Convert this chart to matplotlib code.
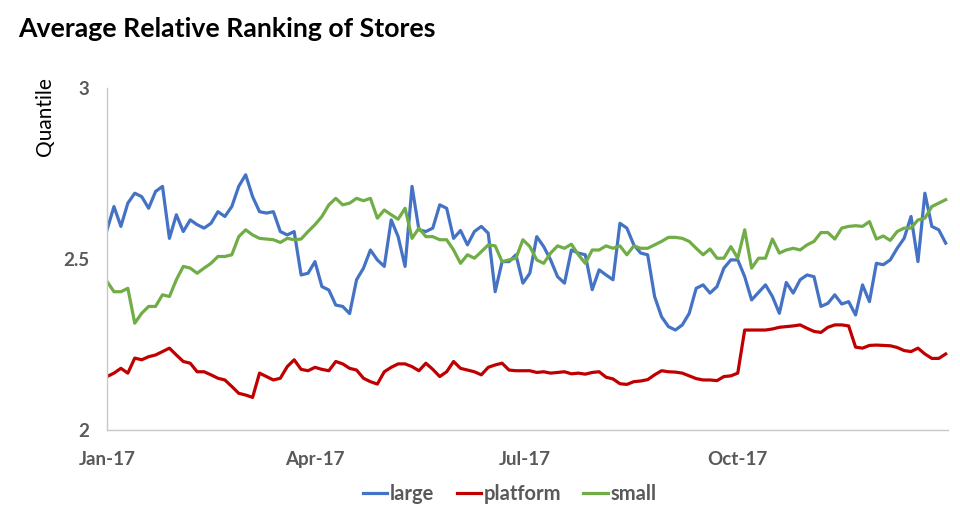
import pandas as pd
import matplotlib
matplotlib.use("Agg")
from matplotlib import pyplot as plt
import matplotlib.dates as mdates

# one reading every 3 days, Jan 1 2017 -> Dec 30 2017
dates = pd.date_range("2017-01-01", periods=122, freq="3D")

large = [
    2.585, 2.653, 2.595, 2.663, 2.692, 2.682, 2.648, 2.697, 2.712, 2.560,
    2.629, 2.580, 2.614, 2.600, 2.590, 2.604, 2.638, 2.624, 2.653, 2.712,
    2.746, 2.682, 2.638, 2.634, 2.638, 2.580, 2.570, 2.580, 2.453, 2.458,
    2.492, 2.419, 2.409, 2.365, 2.361, 2.340, 2.439, 2.473, 2.526, 2.497,
    2.478, 2.614, 2.565, 2.478, 2.712, 2.585, 2.580, 2.590, 2.658, 2.648,
    2.560, 2.583, 2.541, 2.580, 2.595, 2.575, 2.404, 2.492, 2.492, 2.512,
    2.429, 2.458, 2.565, 2.536, 2.497, 2.448, 2.429, 2.526, 2.517, 2.512,
    2.410, 2.468, 2.453, 2.439, 2.604, 2.590, 2.541, 2.517, 2.512, 2.390,
    2.331, 2.302, 2.292, 2.307, 2.341, 2.414, 2.424, 2.400, 2.419, 2.473,
    2.497, 2.497, 2.448, 2.380, 2.402, 2.424, 2.390, 2.341, 2.431, 2.400,
    2.439, 2.453, 2.448, 2.361, 2.370, 2.395, 2.368, 2.375, 2.336, 2.424,
    2.375, 2.487, 2.483, 2.497, 2.531, 2.560, 2.624, 2.492, 2.692, 2.595,
    2.585, 2.546,
]

platform = [
    2.156, 2.166, 2.180, 2.166, 2.210, 2.205, 2.214, 2.219, 2.229, 2.239,
    2.219, 2.200, 2.195, 2.170, 2.170, 2.161, 2.151, 2.146, 2.127, 2.107,
    2.102, 2.095, 2.166, 2.156, 2.146, 2.151, 2.185, 2.205, 2.177, 2.173,
    2.183, 2.177, 2.173, 2.200, 2.193, 2.180, 2.175, 2.151, 2.141, 2.134,
    2.170, 2.183, 2.193, 2.193, 2.185, 2.173, 2.195, 2.177, 2.156, 2.170,
    2.200, 2.180, 2.175, 2.170, 2.161, 2.183, 2.190, 2.195, 2.175, 2.173,
    2.173, 2.173, 2.168, 2.170, 2.166, 2.168, 2.170, 2.164, 2.166, 2.163,
    2.168, 2.170, 2.154, 2.149, 2.135, 2.133, 2.141, 2.143, 2.147, 2.161,
    2.173, 2.170, 2.169, 2.166, 2.158, 2.150, 2.146, 2.146, 2.144, 2.156,
    2.158, 2.166, 2.292, 2.292, 2.292, 2.292, 2.295, 2.300, 2.302, 2.304,
    2.307, 2.297, 2.288, 2.285, 2.300, 2.307, 2.307, 2.304, 2.242, 2.239,
    2.247, 2.248, 2.247, 2.246, 2.241, 2.232, 2.229, 2.239, 2.222, 2.209,
    2.209, 2.222,
]

small = [
    2.434, 2.404, 2.404, 2.414, 2.312, 2.341, 2.361, 2.361, 2.395, 2.390,
    2.439, 2.478, 2.473, 2.458, 2.473, 2.487, 2.507, 2.507, 2.512, 2.565,
    2.585, 2.570, 2.560, 2.558, 2.556, 2.548, 2.560, 2.556, 2.558, 2.580,
    2.600, 2.624, 2.658, 2.677, 2.658, 2.663, 2.677, 2.670, 2.677, 2.619,
    2.643, 2.629, 2.616, 2.648, 2.560, 2.590, 2.565, 2.565, 2.556, 2.556,
    2.526, 2.487, 2.512, 2.502, 2.521, 2.541, 2.538, 2.492, 2.497, 2.502,
    2.556, 2.536, 2.497, 2.487, 2.517, 2.538, 2.531, 2.543, 2.512, 2.487,
    2.526, 2.526, 2.538, 2.531, 2.538, 2.512, 2.538, 2.531, 2.531, 2.541,
    2.551, 2.563, 2.563, 2.560, 2.551, 2.531, 2.512, 2.529, 2.502, 2.502,
    2.536, 2.502, 2.585, 2.473, 2.502, 2.502, 2.558, 2.517, 2.526, 2.531,
    2.526, 2.541, 2.551, 2.577, 2.577, 2.558, 2.590, 2.595, 2.597, 2.595,
    2.609, 2.558, 2.567, 2.554, 2.580, 2.590, 2.590, 2.614, 2.619, 2.653,
    2.663, 2.673,
]

series_names = ["large", "platform", "small"]
colors = ["#4472C4", "#C00000", "#70AD47"]

plt.rcParams["font.family"] = ["Lato", "DejaVu Sans"]

fig = plt.figure(figsize=(9.6, 5.23), dpi=100)
ax = fig.add_axes([0.1115, 0.178, 0.876, 0.654])

for name, vals, c in zip(series_names, [large, platform, small], colors):
    ax.plot(dates, vals, color=c, lw=2.3, label=name, solid_joinstyle="round")

ax.set_ylim(2, 3)
ax.set_yticks([2, 2.5, 3])
ax.set_yticklabels(["2", "2.5", "3"])
ax.set_xlim(pd.Timestamp("2017-01-01"), pd.Timestamp("2017-12-31"))
ax.set_xticks(pd.to_datetime(["2017-01-01", "2017-04-01", "2017-07-01", "2017-10-01"]))
ax.xaxis.set_major_formatter(mdates.DateFormatter("%b-%y"))

for s in ["top", "right"]:
    ax.spines[s].set_visible(False)
for s in ["left", "bottom"]:
    ax.spines[s].set_color("#C8C8C8")
    ax.spines[s].set_linewidth(1.0)

ax.tick_params(length=0, labelsize=13.5, labelcolor="#595959")
ax.tick_params(axis="x", pad=15)
ax.tick_params(axis="y", pad=13)
for lab in ax.get_xticklabels() + ax.get_yticklabels():
    lab.set_fontweight("bold")

ax.set_ylabel("Quantile", fontsize=15, color="black")
ax.yaxis.set_label_coords(-0.062, 0.915)

fig.text(0.019, 0.945, "Average Relative Ranking of Stores", fontsize=19.2,
         fontweight="bold", va="center", ha="left")

leg = fig.legend(loc="center", bbox_to_anchor=(0.531, 0.055), ncol=3, frameon=False,
                 handlelength=1.2, handletextpad=0.15, columnspacing=1.1,
                 prop={"size": 14.5, "weight": "bold"})
for t in leg.get_texts():
    t.set_color("#595959")

fig.savefig("out.png", dpi=100)
